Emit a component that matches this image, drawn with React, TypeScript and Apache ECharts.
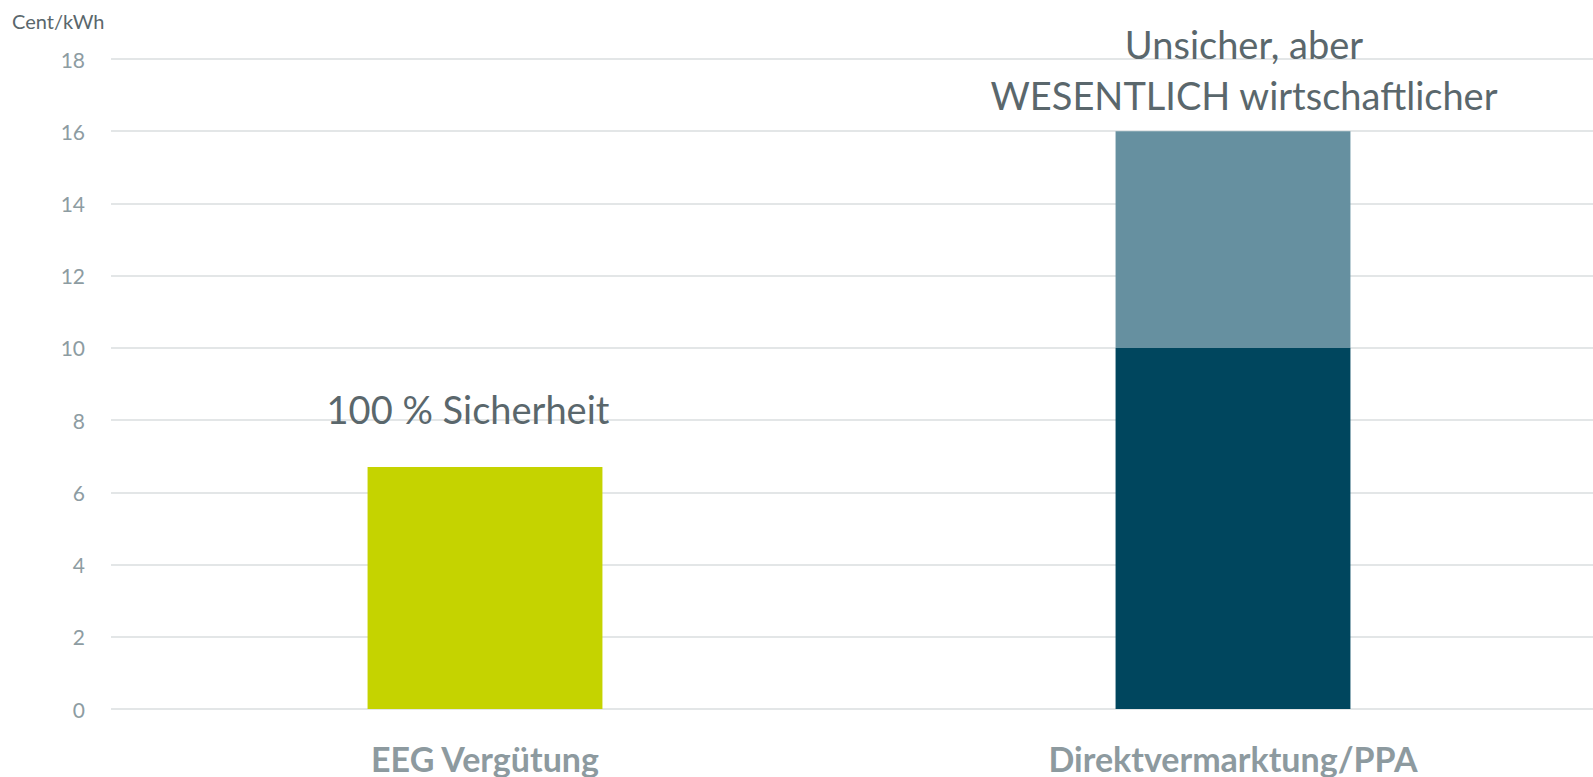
import React, { useEffect, useRef } from "react";
import * as echarts from "echarts";

const categories = ["EEG Vergütung", "Direktvermarktung/PPA"];
const baseValues = [6.7, 10];
const upsideValues: (number | null)[] = [null, 6];
const baseColors = ["#C5D300", "#00465E"];
const upsideColor = "#6690A0";
const annotations = ["100 % Sicherheit", "Unsicher, aber\nWESENTLICH wirtschaftlicher"];
const yMin = 0;
const yMax = 18;
const yInterval = 2;
const unitLabel = "Cent/kWh";

const FONT = "Lato, 'Open Sans', sans-serif";

export default function App() {
  const ref = useRef<HTMLDivElement>(null);
  useEffect(() => {
    if (!ref.current) return;
    const chart = echarts.init(ref.current, null, { renderer: "svg" });
    chart.setOption({
      animation: false,
      backgroundColor: "#ffffff",
      textStyle: { fontFamily: FONT },
      title: {
        text: unitLabel,
        left: 7,
        top: 6,
        textStyle: { fontFamily: FONT, fontSize: 20, fontWeight: "normal", color: "#5A676C" },
      },
      grid: {
        left: 111,
        width: 1496,
        top: 59,
        bottom: 68,
        containLabel: false,
        outerBoundsMode: "none",
      },
      xAxis: {
        type: "category",
        data: categories,
        axisLine: { show: false },
        axisTick: { show: false },
        axisLabel: {
          margin: 32,
          fontFamily: FONT,
          fontSize: 34,
          fontWeight: "bold",
          color: "#8D9A9F",
        },
      },
      yAxis: {
        type: "value",
        min: yMin,
        max: yMax,
        interval: yInterval,
        axisLine: { show: false },
        axisTick: { show: false },
        axisLabel: { margin: 26, fontFamily: FONT, fontSize: 21, color: "#8D9CA2" },
        splitLine: { lineStyle: { color: "#E3E6E7", width: 2 } },
      },
      series: [
        {
          type: "bar",
          stack: "total",
          barWidth: "31.4%",
          data: baseValues.map((v, i) => ({
            value: v,
            itemStyle: { color: baseColors[i] },
            label:
              i === 0
                ? {
                    show: true,
                    position: "top",
                    distance: 39,
                    offset: [-17, 0],
                    formatter: annotations[0],
                    fontFamily: FONT,
                    fontSize: 38,
                    color: "#5A676C",
                  }
                : { show: false },
          })),
        },
        {
          type: "bar",
          stack: "total",
          barWidth: "31.4%",
          itemStyle: { color: upsideColor },
          data: upsideValues.map((v, i) => ({
            value: v,
            label:
              i === 1
                ? {
                    show: true,
                    position: "top",
                    distance: 11,
                    offset: [11, 0],
                    formatter: annotations[1],
                    fontFamily: FONT,
                    fontSize: 38,
                    lineHeight: 51,
                    align: "center",
                    color: "#5A676C",
                  }
                : { show: false },
          })),
        },
      ],
    });
    return () => chart.dispose();
  }, []);
  return <div ref={ref} style={{ position: "fixed", left: 0, top: 0, width: 1593, height: 777 }} />;
}
